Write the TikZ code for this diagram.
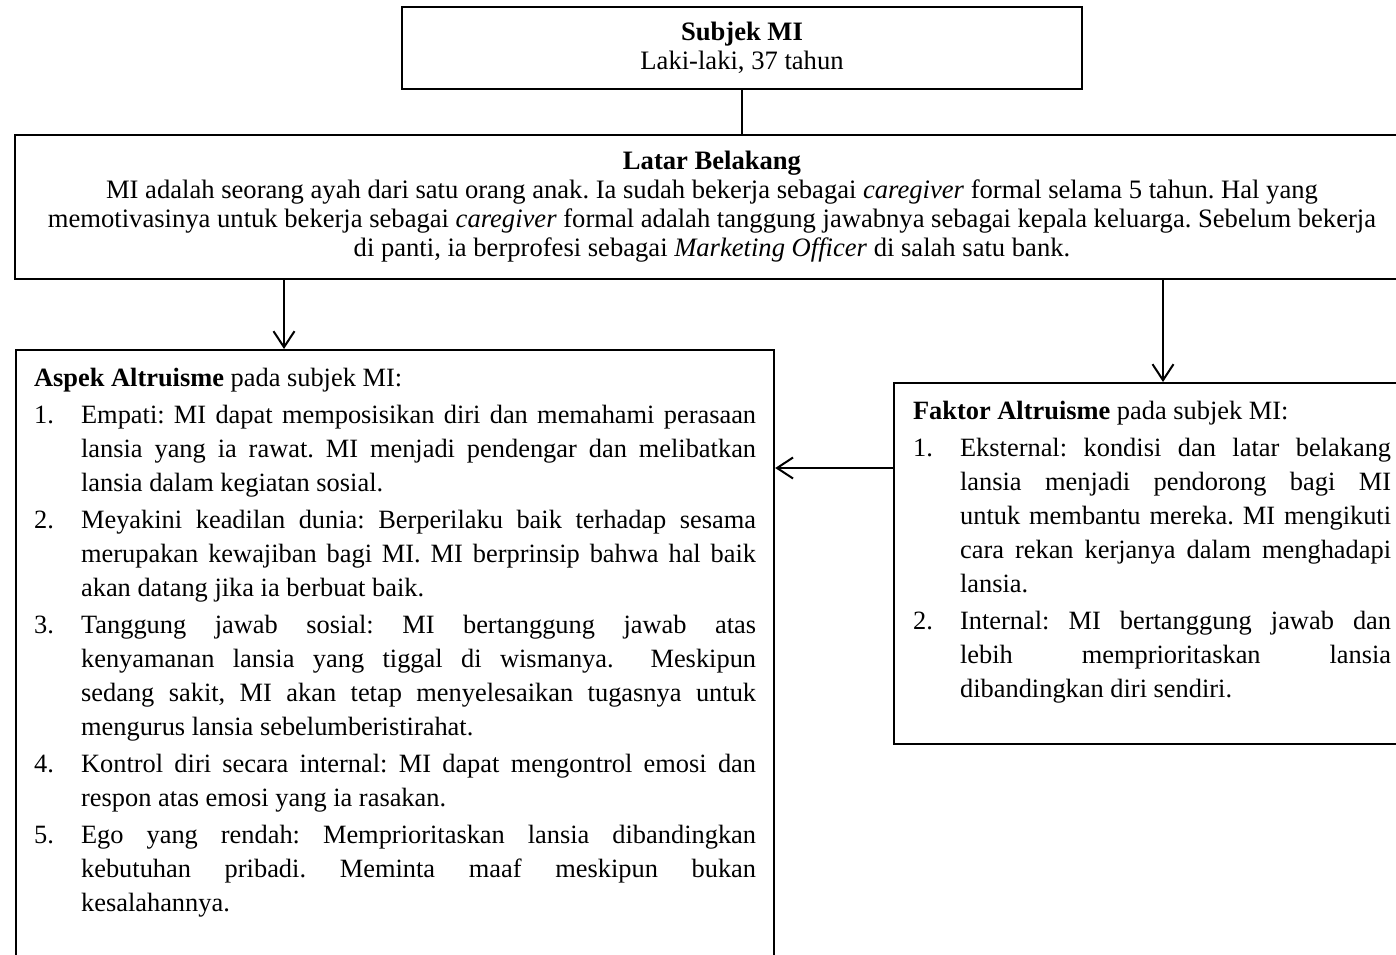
\documentclass[tikz,border=0pt]{standalone}
\usepackage{fontspec}
\setmainfont{Liberation Serif}
\usepackage{tikz}
\usetikzlibrary{arrows.meta}
\hyphenpenalty=10000
\exhyphenpenalty=10000
\frenchspacing
\newcommand{\numitem}[2]{\par\vspace{1.5pt}\noindent\hangindent=23.5pt\hangafter=1\makebox[23.5pt][l]{#1}#2\par}
\tikzset{
  plainbox/.style={
    draw,
    line width=1.1pt,
    align=center,
    font=\fontsize{13.3}{14.5}\selectfont,
    inner sep=0pt
  },
  listbox/.style={
    draw,
    line width=1.1pt,
    anchor=north west,
    align=justify,
    font=\fontsize{13.2}{17}\selectfont\frenchspacing,
    inner xsep=9pt,
    inner ysep=9pt,
    text height=9pt
  },
  rel/.style={-{Straight Barb[length=8pt,width=10.5pt]}, line width=1pt}
}

\begin{document}
\begin{tikzpicture}[x=0.5pt,y=-0.5pt]
  \clip (0,0) rectangle (1396,954);
  \fill[white] (0,0) rectangle (1396,954);

  \node[plainbox, minimum width=340pt, minimum height=41pt] (subjek) at (742,48) {\textbf{Subjek MI}\\Laki-laki, 37 tahun};
  \node[plainbox, minimum width=697pt, minimum height=72pt] (latar) at (712,207) {\frenchspacing\textbf{Latar Belakang}\\MI adalah seorang ayah dari satu orang anak. Ia sudah bekerja sebagai \textit{caregiver} formal selama 5 tahun. Hal yang\\memotivasinya untuk bekerja sebagai \textit{caregiver} formal adalah tanggung jawabnya sebagai kepala keluarga. Sebelum bekerja\\di panti, ia berprofesi sebagai \textit{Marketing Officer} di salah satu bank.};

  \node[listbox, text width=361pt, text depth=300pt] (aspek) at (15,349) {\noindent\textbf{Aspek Altruisme} pada subjek MI:
    \numitem{1.}{Empati: MI dapat memposisikan diri dan memahami perasaan\linebreak lansia yang ia rawat. MI menjadi pendengar dan melibatkan\linebreak lansia dalam kegiatan sosial.}
    \numitem{2.}{Meyakini keadilan dunia: Berperilaku baik terhadap sesama\linebreak merupakan kewajiban bagi MI. MI berprinsip bahwa hal baik\linebreak akan datang jika ia berbuat baik.}
    \numitem{3.}{Tanggung jawab sosial: MI bertanggung jawab atas\linebreak kenyamanan lansia yang tiggal di wismanya.~ Meskipun\linebreak sedang sakit, MI akan tetap menyelesaikan tugasnya untuk\linebreak mengurus lansia sebelumberistirahat.}
    \numitem{4.}{Kontrol diri secara internal: MI dapat mengontrol emosi dan\linebreak respon atas emosi yang ia rasakan.}
    \numitem{5.}{Ego yang rendah: Memprioritaskan lansia dibandingkan\linebreak kebutuhan pribadi. Meminta maaf meskipun bukan\linebreak kesalahannya.}};

  \node[listbox, text width=239pt, inner xsep=9.5pt, text depth=153.5pt] (faktor) at (893,382) {\noindent\textbf{Faktor Altruisme} pada subjek MI:
    \numitem{1.}{Eksternal: kondisi dan latar belakang\linebreak lansia menjadi pendorong bagi MI\linebreak untuk membantu mereka. MI mengikuti\linebreak cara rekan kerjanya dalam menghadapi\linebreak lansia.}
    \numitem{2.}{Internal: MI bertanggung jawab dan\linebreak lebih memprioritaskan lansia\linebreak dibandingkan diri sendiri.}};

  % arrow positions taken from the layout
  \coordinate (a1) at (284,0);
  \coordinate (a2) at (1163,0);
  \coordinate (a3) at (0,468);

  \draw[line width=1pt] (subjek.south) -- (subjek.south |- latar.north);
  \draw[rel] (latar.south -| a1) -- (aspek.north -| a1);
  \draw[rel] (latar.south -| a2) -- (faktor.north -| a2);
  \draw[rel] (faktor.west |- a3) -- (aspek.east |- a3);
\end{tikzpicture}
\end{document}
